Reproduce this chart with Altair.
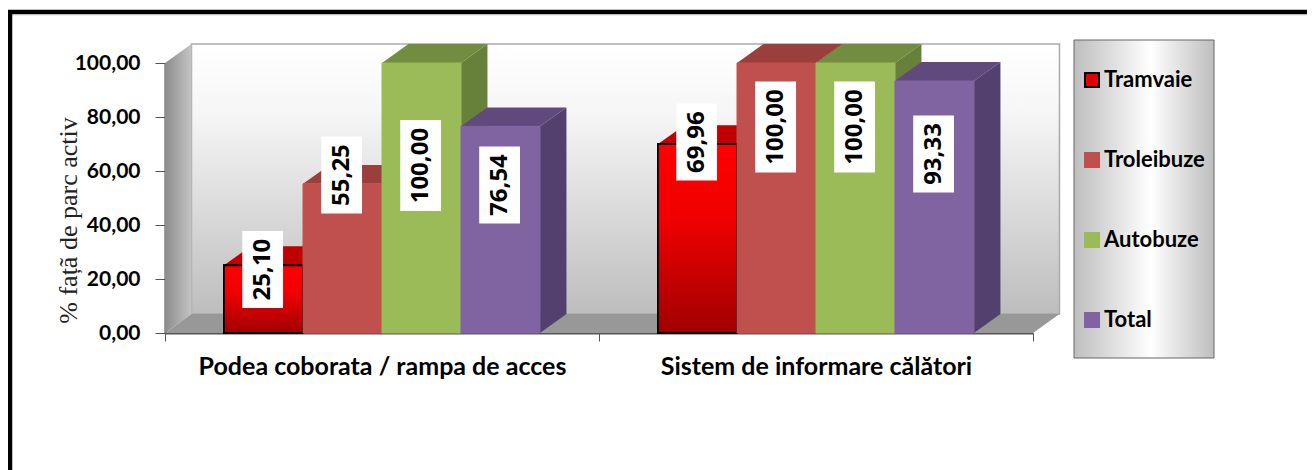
import altair as alt
import pandas as pd

groups = ["Podea coborata / rampa de acces", "Sistem de informare călători"]
series = ["Tramvaie", "Troleibuze", "Autobuze", "Total"]
tramvaie = [25.10, 69.96]
troleibuze = [55.25, 100.00]
autobuze = [100.00, 100.00]
total = [76.54, 93.33]
values = [tramvaie, troleibuze, autobuze, total]
label_heights = [[23.5, 70.7], [58.5, 76.3], [62.0, 76.3], [54.8, 66.3]]

front = ["#E00000", "#C0504D", "#9BBB59", "#8064A2"]
edge = ["#000000", "#C0504D", "#9BBB59", "#8064A2"]
top = ["#C00000", "#9A3F3C", "#728C40", "#60497C"]
side = ["#8A0000", "#8A3A38", "#67803A", "#53406F"]

BAR = 0.182
GAP = 0.136
DX = 0.061
DY = 7.0
FONT = "Lato"

xs = alt.Scale(domain=[0, 2], nice=False, zero=False)
ys = alt.Scale(domain=[0, 100], nice=False, zero=True)


def grad(stops, horizontal=False):
    return alt.LinearGradient(
        gradient="linear",
        x1=0, y1=0,
        x2=1 if horizontal else 0,
        y2=0 if horizontal else 1,
        stops=[alt.GradientStop(offset=o, color=c) for o, c in stops],
    )


x_axis = alt.Axis(
    values=[0, 0.5, 1, 1.5, 2],
    title=None, grid=False,
    labelExpr=f"datum.value == 0.5 ? '{groups[0]}' : datum.value == 1.5 ? '{groups[1]}' : ''",
    labelFont=FONT, labelFontWeight="bold", labelFontSize=25, labelColor="#000000",
    labelPadding=13, labelOverlap=False, labelFlush=False, labelAngle=0, labelLimit=500,
    tickSize=8, tickColor="#555555",
    tickOpacity={"condition": {"test": "datum.value == 0.5 || datum.value == 1.5", "value": 0}, "value": 1},
    domainColor="#555555", domainWidth=2,
)
y_axis = alt.Axis(
    values=[0, 20, 40, 60, 80, 100],
    grid=False,
    labelExpr="replace(format(datum.value, '.2f'), '.', ',')",
    labelFont=FONT, labelFontWeight="bold", labelFontSize=21, labelColor="#000000",
    labelPadding=15, labelOverlap=False, labelFlush=False,
    tickSize=10, tickColor="#555555", domainColor="#444444", domainWidth=2,
    title="% fațã de parc activ",
    titleFont="Liberation Serif", titleFontWeight="normal", titleFontSize=26, titleColor="#222222",
    titleX=-84, titleY=157,
)
X = alt.X("x:Q", scale=xs, axis=x_axis)
Y = alt.Y("y:Q", scale=ys, axis=y_axis, stack=None)
X2 = alt.X2("x2:Q")
Y2 = alt.Y2("y2:Q")

legend = alt.Legend(
    title=None, orient="none", legendX=916, legendY=6, padding=0,
    symbolType="square", symbolSize=196, symbolStrokeWidth=2, symbolOpacity=1,
    labelFont=FONT, labelFontWeight="bold", labelFontSize=22, labelColor="#000000",
    labelOffset=1, rowPadding=58, labelLimit=200,
)
fill_scale = alt.Scale(domain=series, range=front)
stroke_scale = alt.Scale(domain=series, range=edge)


def area_layer(rows, fill, **kw):
    return alt.Chart(pd.DataFrame(rows)).mark_area(clip=False, **({"fill": fill} if fill else {}), **kw).encode(
        x=X, y=Y, y2=Y2, detail="bar:N"
    )


layers = []

# frame of the picture and legend panel
def vrule(x, y, y2, color, size):
    return alt.Chart(pd.DataFrame({"a": [0]})).mark_rule(color=color, strokeWidth=size).encode(
        x=alt.value(x), y=alt.value(y), y2=alt.value(y2)
    )

def hrule(y, x, x2, color, size):
    return alt.Chart(pd.DataFrame({"a": [0]})).mark_rule(color=color, strokeWidth=size).encode(
        y=alt.value(y), x=alt.value(x), x2=alt.value(x2)
    )

layers.append(hrule(-51, -157, 1150, "#000000", 4.5))
layers.append(hrule(-48.3, -157, 1150, "#BBBBBB", 1))
layers.append(vrule(-155, -51, 410, "#000000", 4.5))

layers.append(
    alt.Chart(pd.DataFrame({"a": [0]}))
    .mark_rect(fill=grad([(0, "#BEBEBE"), (0.55, "#FFFFFF"), (1, "#BEBEBE")], True), stroke="#666666", strokeWidth=1)
    .encode(x=alt.value(909), x2=alt.value(1049), y=alt.value(-23), y2=alt.value(295))
)

# walls and floor
layers.append(
    alt.Chart(pd.DataFrame({"x": [DX], "x2": [2 + DX], "y": [DY], "y2": [100 + DY]}))
    .mark_rect(fill=grad([(0, "#FFFFFF"), (0.25, "#F6F6F6"), (1, "#BDBDBD")]), stroke="#AAAAAA", strokeWidth=1.5)
    .encode(x=X, x2=X2, y=Y, y2=Y2)
)
layers.append(area_layer(
    [{"bar": "w", "x": 0, "y": 0, "y2": 100}, {"bar": "w", "x": DX, "y": DY, "y2": 100 + DY}],
    grad([(0, "#8C8C8C"), (1, "#C4C4C4")], True)))
layers.append(area_layer(
    [{"bar": "f", "x": 0, "y": 0, "y2": 0}, {"bar": "f", "x": DX, "y": 0, "y2": DY},
     {"bar": "f", "x": 2, "y": 0, "y2": DY}, {"bar": "f", "x": 2 + DX, "y": DY, "y2": DY}],
    "#989898"))

# bars: series by series, the later ones hide the earlier ones
for s, name in enumerate(series):
    side_rows, top_rows, front_rows = [], [], []
    for g in range(len(groups)):
        v = values[s][g]
        l = g + GAP + s * BAR
        r = l + BAR
        key = f"{s}-{g}"
        side_rows += [{"bar": key, "x": r, "y": 0, "y2": v},
                      {"bar": key, "x": r + DX, "y": DY, "y2": v + DY}]
        top_rows += [{"bar": key, "x": l, "y": v, "y2": v},
                     {"bar": key, "x": l + DX, "y": v, "y2": v + DY},
                     {"bar": key, "x": r, "y": v, "y2": v + DY},
                     {"bar": key, "x": r + DX, "y": v + DY, "y2": v + DY}]
        front_rows.append({"series": name, "x": l, "x2": r, "y": 0, "y2": v})
    layers.append(area_layer(side_rows, side[s]))
    layers.append(area_layer(top_rows, top[s]))
    df = pd.DataFrame(front_rows)
    layers.append(
        alt.Chart(df).mark_rect(strokeWidth=2 if s == 0 else 1).encode(
            x=X, x2=X2, y=Y, y2=Y2,
            fill=alt.Fill("series:N", scale=fill_scale, legend=legend),
            stroke=alt.Stroke("series:N", scale=stroke_scale, legend=legend),
        )
    )
    if s == 0:
        layers.append(
            alt.Chart(df).mark_rect(
                fill=grad([(0, "#FF0000"), (0.4, "#F00000"), (1, "#A00000")]),
                stroke="#000000", strokeWidth=2,
            ).encode(x=X, x2=X2, y=Y, y2=Y2)
        )

# value labels on white boxes
rows = []
for s in range(len(series)):
    for g in range(len(groups)):
        txt = f"{values[s][g]:.2f}".replace(".", ",")
        c = g + GAP + (s + 0.5) * BAR - 0.002
        half = (91 if len(txt) == 6 else 77) / 2 / 2.7
        rows.append({"x": c - 0.047, "x2": c + 0.047, "xc": c,
                     "y": label_heights[s][g] - half, "y2": label_heights[s][g] + half,
                     "yc": label_heights[s][g], "txt": txt})
labels = pd.DataFrame(rows)
layers.append(alt.Chart(labels).mark_rect(fill="#FFFFFF").encode(x=X, x2=X2, y=Y, y2=Y2))
layers.append(
    alt.Chart(labels)
    .mark_text(angle=270, font="Open Sans", fontWeight="bold", fontSize=24, color="#000000",
               align="center", baseline="middle")
    .encode(x=alt.X("xc:Q", scale=xs, axis=x_axis), y=alt.Y("yc:Q", scale=ys, axis=y_axis), text="txt:N")
)

chart = (
    alt.layer(*layers)
    .properties(
        width=868, height=270,
        padding={"left": 157, "top": 55, "right": 274, "bottom": 137},
        autosize=alt.AutoSizeParams(type="none"),
        background="#FFFFFF",
    )
    .configure_view(stroke=None)
)
chart.save("out.html", embed_options={"renderer": "svg", "actions": False})
